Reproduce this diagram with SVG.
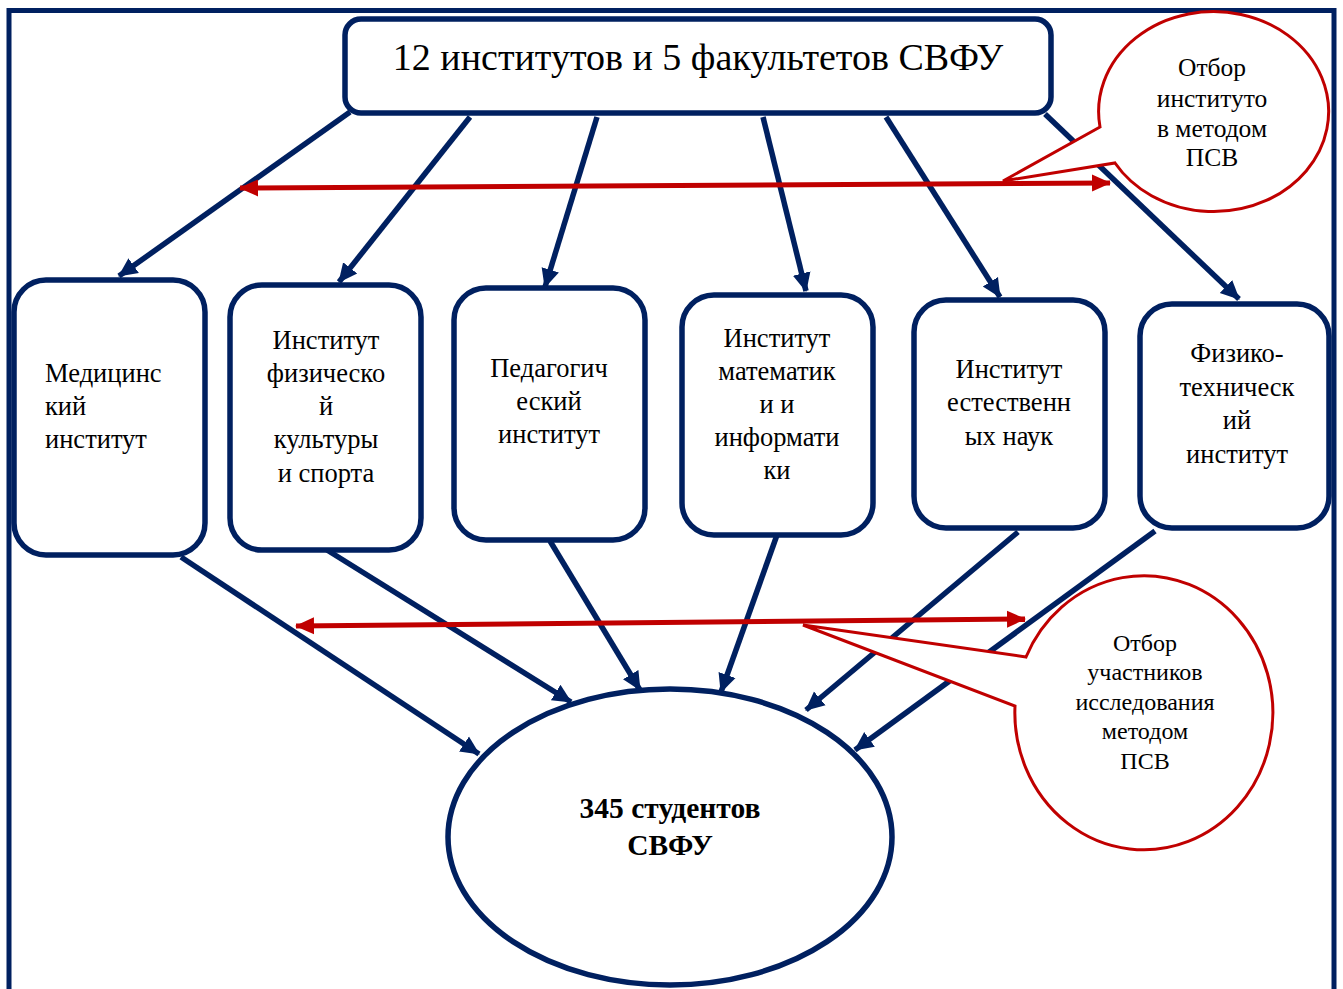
<svg xmlns="http://www.w3.org/2000/svg" width="1343" height="989" viewBox="0 0 1343 989" font-family="'Liberation Serif', 'DejaVu Serif', serif">
<style>
.frame{fill:none;stroke:#002060;stroke-width:5}
.box{fill:#fff;stroke:#002060;stroke-width:5.5}
.nav{fill:none;stroke:#002060;stroke-width:5.5}
.red{fill:none;stroke:#C00000;stroke-width:5}
.call{fill:#fff;stroke:#C00000;stroke-width:3;stroke-linejoin:miter}
text{font-family:'Liberation Serif', 'DejaVu Serif', serif;fill:#000}
.t{font-size:26.5px;text-anchor:middle}
.tl{font-size:26.5px;text-anchor:start}
.c{font-size:25.5px;text-anchor:middle}
.c2{font-size:24px;text-anchor:middle}
</style>
<defs>
<marker id="ah" markerUnits="userSpaceOnUse" markerWidth="20" markerHeight="20" viewBox="0 0 20 20" refX="18" refY="10" orient="auto">
<path d="M0,1 L19,10 L0,19 Z" fill="#002060"/>
</marker>
<marker id="rh" markerUnits="userSpaceOnUse" markerWidth="20" markerHeight="20" viewBox="0 0 20 20" refX="18" refY="10" orient="auto-start-reverse">
<path d="M0,1.5 L19,10 L0,18.5 Z" fill="#C00000"/>
</marker>
</defs>
<rect class="frame" x="9" y="10.5" width="1325" height="995"/>
<g id="connectors">
<line class="nav" x1="350" y1="112" x2="119" y2="276" marker-end="url(#ah)"/>
<line class="nav" x1="470" y1="117" x2="339" y2="282" marker-end="url(#ah)"/>
<line class="nav" x1="597" y1="117" x2="545" y2="287" marker-end="url(#ah)"/>
<line class="nav" x1="763" y1="117" x2="806" y2="291" marker-end="url(#ah)"/>
<line class="nav" x1="886" y1="117" x2="1000" y2="297" marker-end="url(#ah)"/>
<line class="nav" x1="1045" y1="114" x2="1239" y2="299" marker-end="url(#ah)"/>
<line class="nav" x1="181" y1="557" x2="479" y2="754" marker-end="url(#ah)"/>
<line class="nav" x1="327" y1="550" x2="571" y2="702" marker-end="url(#ah)"/>
<line class="nav" x1="550" y1="541" x2="640" y2="690" marker-end="url(#ah)"/>
<line class="nav" x1="777" y1="535" x2="721" y2="692" marker-end="url(#ah)"/>
<line class="nav" x1="1018" y1="532" x2="806" y2="710" marker-end="url(#ah)"/>
<line class="nav" x1="1155" y1="531" x2="855" y2="750" marker-end="url(#ah)"/>
<line class="red" x1="240" y1="188" x2="1110" y2="183" marker-start="url(#rh)" marker-end="url(#rh)"/>
<line class="red" x1="296" y1="626" x2="1025" y2="619" marker-start="url(#rh)" marker-end="url(#rh)"/>
</g>
<g id="top">
<rect class="box" x="345" y="19" width="706" height="94" rx="16"/>
<text x="698" y="70" font-size="38" text-anchor="middle">12 институтов и 5 факультетов СВФУ</text>
</g>
<g id="med">
<rect class="box" x="14" y="280" width="191" height="275" rx="32"/>
<text class="tl" x="45" y="382">Медицинс</text>
<text class="tl" x="45" y="415">кий</text>
<text class="tl" x="45" y="448">институт</text>
</g>
<g id="sport">
<rect class="box" x="230" y="285" width="191" height="265" rx="32"/>
<text class="t" x="326" y="349">Институт</text>
<text class="t" x="326" y="382">физическо</text>
<text class="t" x="326" y="415">й</text>
<text class="t" x="326" y="448">культуры</text>
<text class="t" x="326" y="482">и спорта</text>
</g>
<g id="ped">
<rect class="box" x="454" y="288" width="191" height="252" rx="32"/>
<text class="t" x="549" y="377">Педагогич</text>
<text class="t" x="549" y="410">еский</text>
<text class="t" x="549" y="443">институт</text>
</g>
<g id="math">
<rect class="box" x="682" y="295" width="191" height="240" rx="32"/>
<text class="t" x="777" y="347">Институт</text>
<text class="t" x="777" y="380">математик</text>
<text class="t" x="777" y="413">и и</text>
<text class="t" x="777" y="446">информати</text>
<text class="t" x="777" y="479">ки</text>
</g>
<g id="nat">
<rect class="box" x="914" y="300" width="191" height="228" rx="32"/>
<text class="t" x="1009" y="378">Институт</text>
<text class="t" x="1009" y="411">естественн</text>
<text class="t" x="1009" y="445">ых наук</text>
</g>
<g id="phys">
<rect class="box" x="1140" y="304" width="189" height="224" rx="32"/>
<text class="t" x="1237" y="362">Физико-</text>
<text class="t" x="1237" y="396">техническ</text>
<text class="t" x="1237" y="429">ий</text>
<text class="t" x="1237" y="463">институт</text>
</g>
<g id="students">
<ellipse class="box" cx="670" cy="837" rx="222" ry="148"/>
<text x="670" y="818" font-size="29.5" font-weight="bold" text-anchor="middle">345 студентов</text>
<text x="670" y="855" font-size="29.5" font-weight="bold" text-anchor="middle">СВФУ</text>
</g>
<g id="callout1">
<path class="call" d="M1100,127 L1003,181 L1115,163 A115 100 0 1 0 1100,127 Z"/>
<text class="c" x="1212" y="76">Отбор</text>
<text class="c" x="1212" y="107">институто</text>
<text class="c" x="1212" y="137">в методом</text>
<text class="c" x="1212" y="166">ПСВ</text>
</g>
<g id="callout2">
<path class="call" d="M1026,657 L803,625 L1015,706 A129 137 0 1 0 1026,657 Z"/>
<text class="c2" x="1145" y="651">Отбор</text>
<text class="c2" x="1145" y="680">участников</text>
<text class="c2" x="1145" y="710">исследования</text>
<text class="c2" x="1145" y="739">методом</text>
<text class="c2" x="1145" y="769">ПСВ</text>
</g>
</svg>
